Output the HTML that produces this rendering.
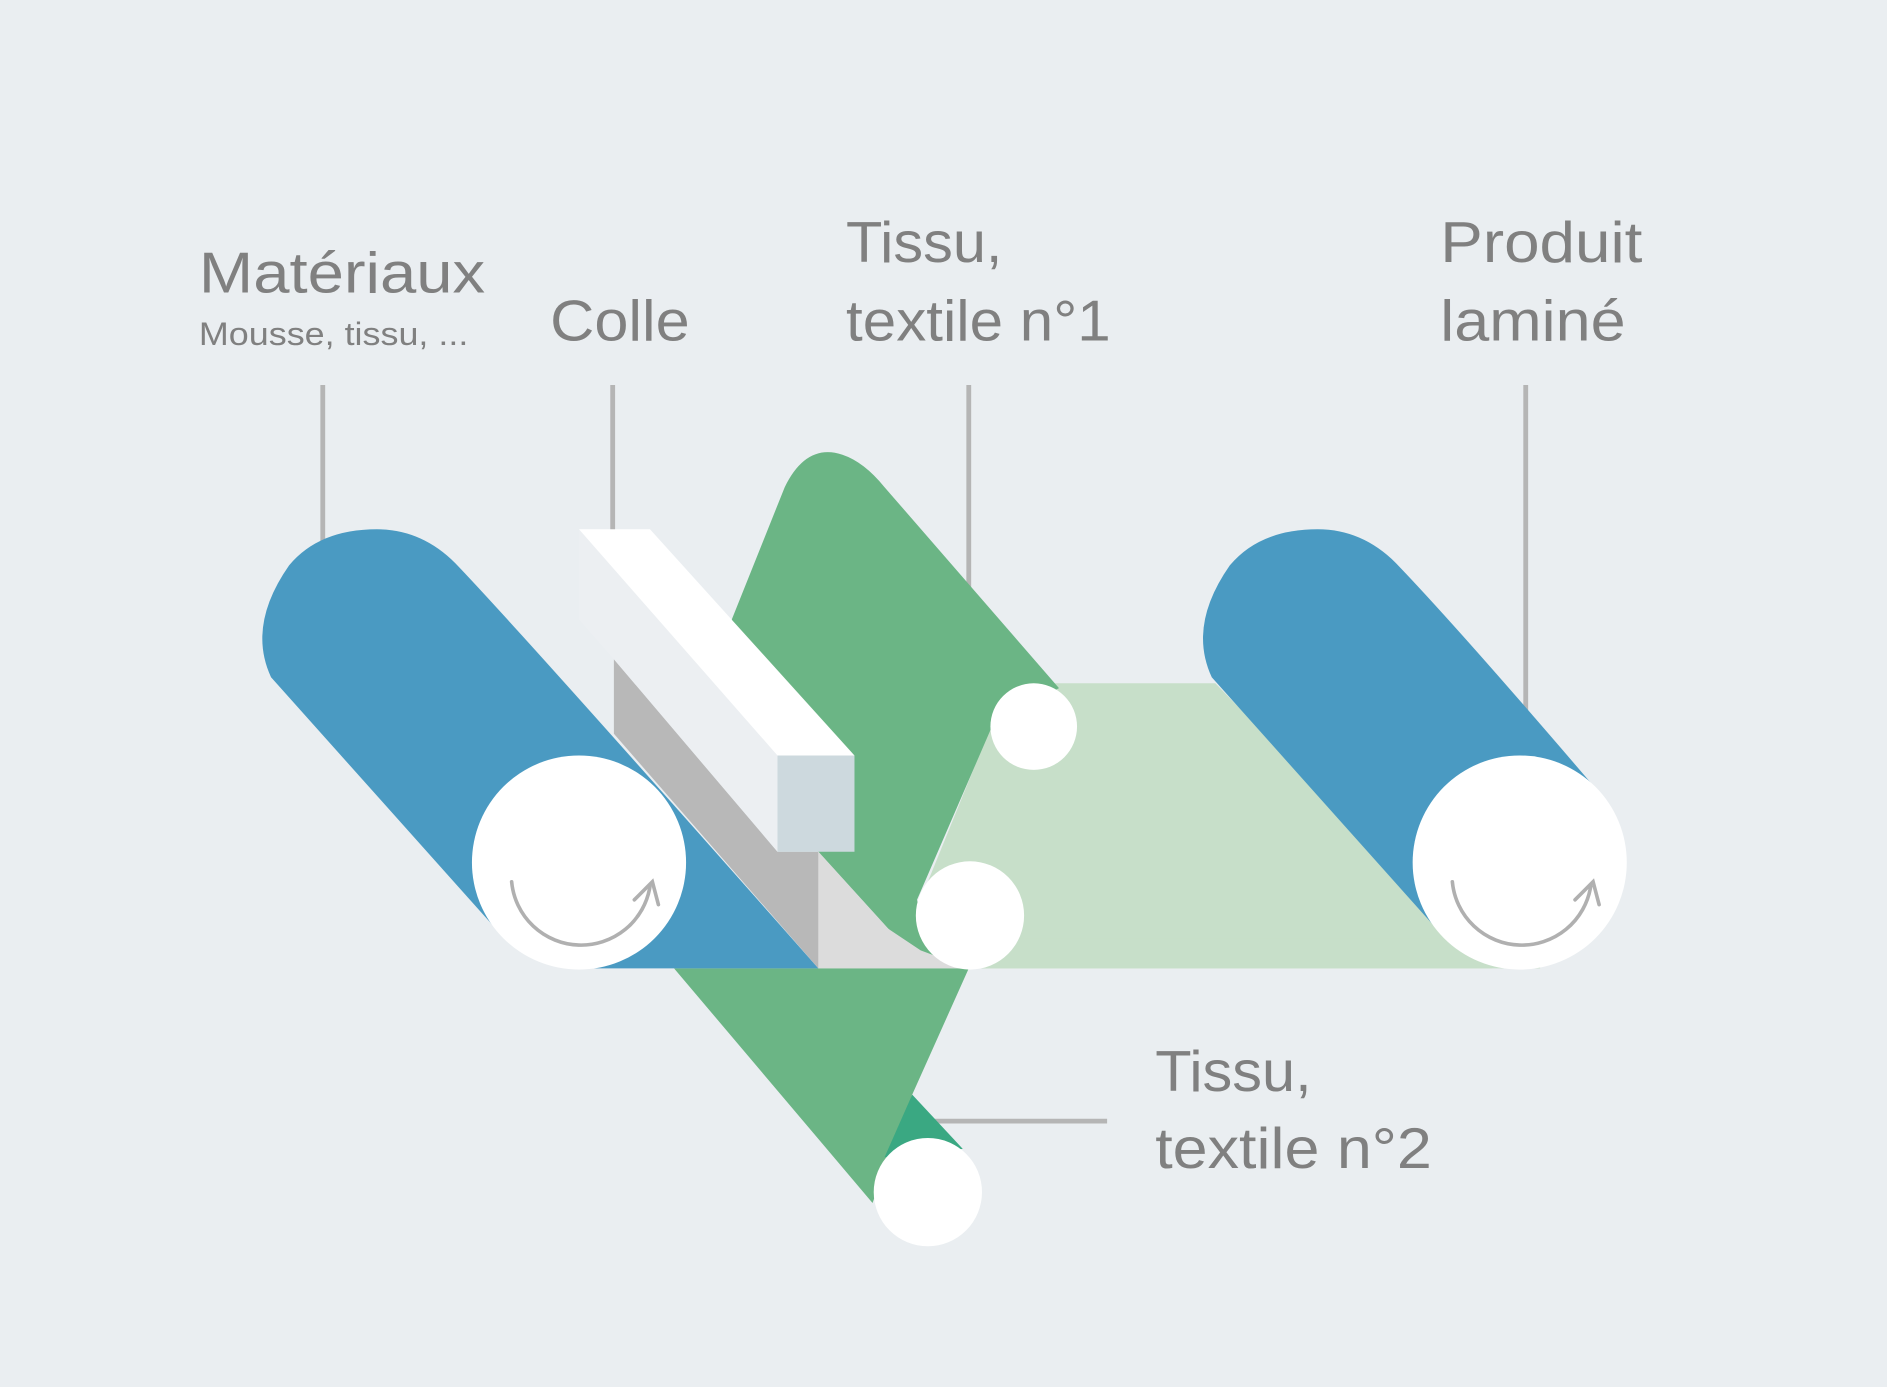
<!DOCTYPE html>
<html><head><meta charset="utf-8"><style>html,body{margin:0;padding:0;background:#eaeef1}svg{display:block}</style></head>
<body>
<svg width="1887" height="1387" viewBox="0 0 1568 1153" xmlns="http://www.w3.org/2000/svg">
<rect width="1568" height="1153" fill="#eaeef1"/>
<g stroke="#b5b5b5" stroke-width="4" fill="none">
<line x1="268" y1="320" x2="268" y2="460"/>
<line x1="509" y1="320" x2="509" y2="445"/>
<line x1="805" y1="320" x2="805" y2="495"/>
<line x1="1268" y1="320" x2="1268" y2="595"/>
<line x1="770" y1="932" x2="920" y2="932"/>
</g>
<!-- light green band -->
<polygon points="860,568 1010,568 1240,805 770,805 760,760 825,600" fill="#c7dfc9"/>
<rect x="680" y="780" width="600" height="25" fill="#c7dfc9"/>
<!-- lower green -->
<polygon points="560,805 805,805 758,910 725,1000" fill="#6bb585"/>
<polygon points="758,910 800,955 735,962" fill="#3aa882"/>
<!-- upper green -->
<path d="M608,515 L652,405 Q670,368 700,378 Q718,384 735,405 L880,572 L826,600 L762,748 Q770,790 805,805 Q765,800 738,772 L680,708 Z" fill="#6bb585"/>
<!-- left blue roll -->
<path d="M225,563 Q205,520 240,470 Q265,440 313,440 Q350,440 378,468 Q430,522 680,805 L480,805 L410,770 Z" fill="#4a9ac2"/>
<circle cx="481" cy="717" r="89" fill="#fff"/>
<!-- right blue roll -->
<path d="M1007,563 Q987,520 1022,470 Q1047,440 1095,440 Q1132,440 1160,468 Q1212,522 1330,660 L1262,805 L1192,770 Z" fill="#4a9ac2"/>
<circle cx="1263" cy="717" r="89" fill="#fff"/>
<!-- glue block -->
<polygon points="510,548 646,708 680,708 680,805 510,610" fill="#b8b8b8"/>
<polygon points="680,708 680,805 805,805 765,790 738,772" fill="#dcdcdc"/>
<polygon points="481,440 646,628 646,708 510,548 481,515" fill="#eceff2"/>
<polygon points="481,440 540,440 710,628 646,628" fill="#ffffff"/>
<polygon points="646,628 710,628 710,708 646,708" fill="#cdd9de"/>
<!-- small rollers -->
<circle cx="859" cy="604" r="36" fill="#fff"/>
<circle cx="806" cy="761" r="45" fill="#fff"/>
<circle cx="771" cy="991" r="45" fill="#fff"/>
<!-- arrows -->
<g stroke="#b0b0b0" stroke-width="3" fill="none" stroke-linecap="round">
<path d="M425,733 A58,58 0 0 0 540,737"/>
<path d="M527,748 L542,733 L547,752"/>
<path d="M1207,733 A58,58 0 0 0 1322,737"/>
<path d="M1309,748 L1324,733 L1329,752"/>
</g>
<g font-family="Liberation Sans, sans-serif" fill="#808080">
<text x="165" y="243" font-size="48" textLength="238" lengthAdjust="spacingAndGlyphs">Matériaux</text>
<text x="165" y="287" font-size="27" textLength="224" lengthAdjust="spacingAndGlyphs">Mousse, tissu, ...</text>
<text x="457" y="283" font-size="48" textLength="116" lengthAdjust="spacingAndGlyphs">Colle</text>
<text x="703" y="218" font-size="48" textLength="130" lengthAdjust="spacingAndGlyphs">Tissu,</text>
<text x="703" y="283" font-size="48" textLength="220" lengthAdjust="spacingAndGlyphs">textile n°1</text>
<text x="1197" y="218" font-size="48" textLength="168" lengthAdjust="spacingAndGlyphs">Produit</text>
<text x="1197" y="283" font-size="48" textLength="154" lengthAdjust="spacingAndGlyphs">laminé</text>
<text x="960" y="907" font-size="48" textLength="130" lengthAdjust="spacingAndGlyphs">Tissu,</text>
<text x="960" y="971" font-size="48" textLength="230" lengthAdjust="spacingAndGlyphs">textile n°2</text>
</g>
</svg>
</body></html>
